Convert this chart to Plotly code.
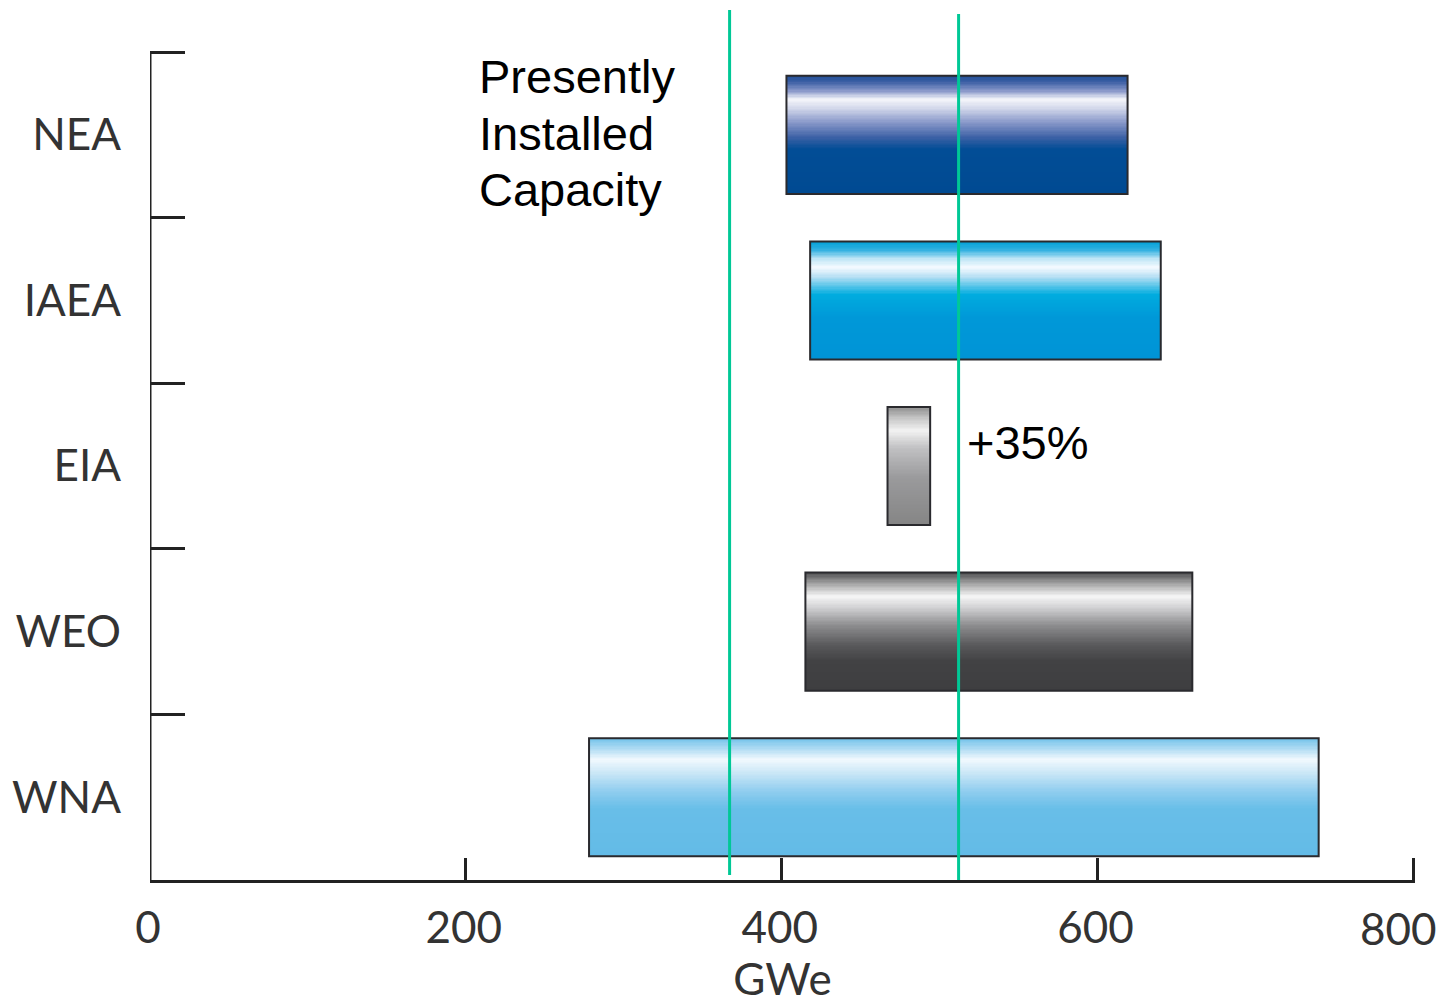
import plotly.graph_objects as go

# Projected nuclear capacity ranges by agency (GWe)
agencies = ["WNA", "WEO", "EIA", "IAEA", "NEA"]
range_low = [278, 415, 467, 418, 403]
range_high = [740, 660, 494, 640, 619]

# Reference capacity lines (GWe)
installed_capacity = 367
plus_35_level = 512

x_ticks = [0, 200, 400, 600, 800]

# Vertical colour ramps for each bar (0 = top edge, 1 = bottom edge)
ramps = {
    "NEA": [[0, "#1f4f96"], [0.05, "#3a5ea4"], [0.13, "#8d9bcb"], [0.2, "#f4f5fa"],
            [0.27, "#d5daec"], [0.4, "#8696c8"], [0.52, "#3e62a6"], [0.62, "#024d96"],
            [1, "#004a92"]],
    "IAEA": [[0, "#00a0d8"], [0.07, "#30b0e0"], [0.15, "#c0e6f6"], [0.22, "#f4faff"],
             [0.3, "#b8e0f4"], [0.45, "#00acdf"], [0.65, "#0098d8"], [1, "#0094d6"]],
    "EIA": [[0, "#8e8e8e"], [0.1, "#c8c8c8"], [0.2, "#f2f2f2"], [0.35, "#c0c0c2"],
            [0.6, "#9a9a9c"], [1, "#858585"]],
    "WEO": [[0, "#505052"], [0.1, "#a8a8a8"], [0.2, "#f6f6f6"], [0.3, "#d0d0d2"],
            [0.45, "#8c8c8e"], [0.62, "#58585a"], [0.75, "#424244"], [1, "#3e3e40"]],
    "WNA": [[0, "#72c2ea"], [0.08, "#a8d8f2"], [0.18, "#f2f9fe"], [0.3, "#c8e6f6"],
            [0.45, "#90cdef"], [0.6, "#68bee8"], [1, "#63bbe7"]],
}

bar_height = 0.713
n_strips = 90
positions = [i + 0.5 for i in range(len(agencies))]

fig = go.Figure()

# Gradient fill: a one-column heatmap per bar, rows running top to bottom
for name, lo, hi, yc in zip(agencies, range_low, range_high, positions):
    y0 = yc - bar_height / 2
    edges = [y0 + bar_height * k / n_strips for k in range(n_strips + 1)]
    z = [[1 - (k + 0.5) / n_strips] for k in range(n_strips)]
    fig.add_trace(go.Heatmap(
        x=[lo, hi], y=edges, z=z, zmin=0, zmax=1,
        colorscale=ramps[name], showscale=False, hoverinfo="skip",
    ))

# Bar outlines
fig.add_trace(go.Bar(
    y=positions, x=[h - l for l, h in zip(range_low, range_high)], base=range_low,
    orientation="h", width=bar_height,
    marker=dict(color="rgba(0,0,0,0)", line=dict(color="#2a2a2e", width=2)),
    hoverinfo="skip", showlegend=False,
))

# Tick marks at the category boundaries on an overlaid axis
fig.add_trace(go.Scatter(x=[None], y=[None], yaxis="y2", showlegend=False, hoverinfo="skip"))

y_top = 5.254
axis_font = dict(family="Lato, Arial, sans-serif", size=44, color="#333333")

# The last x label sits at the right edge of the page, so it is placed
# separately, nudged inward so it stays fully visible.
x_ticktext = [str(v) for v in x_ticks[:-1]] + [""]

fig.update_layout(
    width=1443, height=1004,
    margin=dict(l=150, r=28, t=10, b=124),
    plot_bgcolor="white", paper_bgcolor="white",
    showlegend=False,
    xaxis=dict(
        range=[0, 801], tickvals=x_ticks, ticktext=x_ticktext,
        showgrid=False, zeroline=False, automargin=False,
        showline=True, linecolor="#222222", linewidth=3,
        ticks="inside", ticklen=22, tickwidth=3, tickcolor="#222222",
        tickfont=axis_font, ticklabelstandoff=7, ticklabelshift=-2,
        title=dict(text="GWe", font=axis_font, standoff=12),
    ),
    yaxis=dict(
        range=[0, y_top], tickvals=positions, ticktext=agencies,
        showgrid=False, zeroline=False, showline=False, ticks="",
        tickfont=axis_font, ticklabelstandoff=28, automargin=False,
    ),
    yaxis2=dict(
        range=[0, y_top], overlaying="y", anchor="x", side="left",
        tickvals=[1, 2, 3, 4, 5], showticklabels=False, automargin=False,
        ticks="inside", ticklen=35, tickwidth=3, tickcolor="#222222",
        showgrid=False, zeroline=False, showline=False,
    ),
)

fig.add_annotation(x=x_ticks[-1], y=0, xref="x", yref="y", xanchor="right", yanchor="middle",
                   xshift=26, yshift=-48, text=str(x_ticks[-1]), showarrow=False,
                   font=axis_font)

# Left axis spine from the baseline up to the top boundary
fig.add_shape(type="line", xref="x", yref="y", x0=0, x1=0, y0=0, y1=len(agencies),
              line=dict(color="#222222", width=3))

# Reference lines
fig.add_shape(type="line", xref="x", yref="y", x0=installed_capacity, x1=installed_capacity,
              y0=0.03, y1=y_top, line=dict(color="#00c896", width=3))
fig.add_shape(type="line", xref="x", yref="y", x0=plus_35_level, x1=plus_35_level,
              y0=0, y1=5.23, line=dict(color="#00c896", width=3))

label_font = dict(family="Arial, Liberation Sans, sans-serif", size=47, color="black")
for text, yv in zip(["Presently", "Installed", "Capacity"], [4.855, 4.511, 4.167]):
    fig.add_annotation(x=207, y=yv, xref="x", yref="y", xanchor="left", yanchor="middle",
                       text=text, showarrow=False, align="left", font=label_font)
fig.add_annotation(x=516, y=2.64, xref="x", yref="y", xanchor="left", yanchor="middle",
                   text="+35%", showarrow=False, font=label_font)

fig.write_html("out.html")
